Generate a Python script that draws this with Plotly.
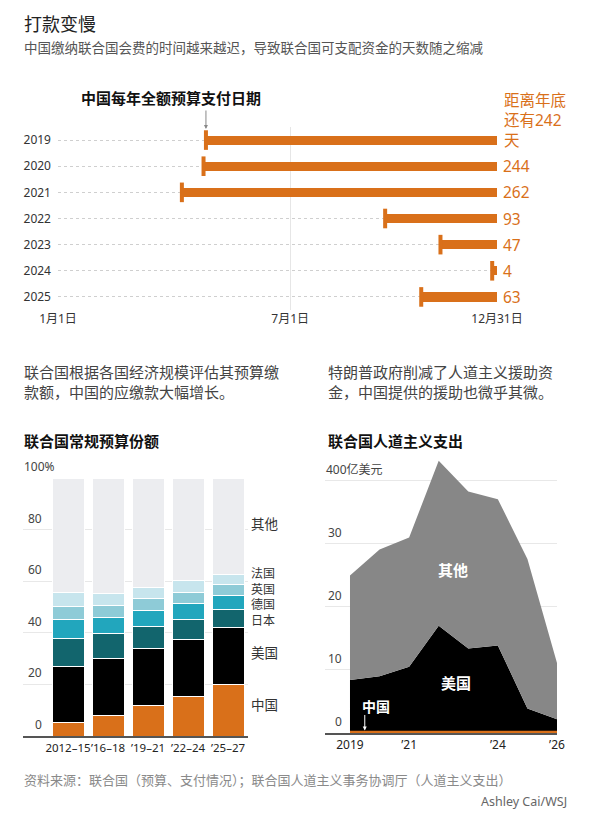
import plotly.graph_objects as go

W, H = 596, 819
ORANGE = "#d9701a"
FONT = "Noto Sans, Noto Sans CJK SC, sans-serif"

# top chart: days left in the year when China paid in full
YEARS = ["2019", "2020", "2021", "2022", "2023", "2024", "2025"]
DAYS_LEFT = [242, 244, 262, 93, 47, 4, 63]
PAY_DAY = [365 - d for d in DAYS_LEFT]
DAY_TICKS = [0, 193, 365]
DAY_LABELS = ["1月1日", "7月1日", "12月31日"]

# bottom left: regular budget shares (%)
PERIODS = ["2012–15", "’16–18", "’19–21", "’22–24", "’25–27"]
SHARE_CHINA = [5.1, 7.9, 12.0, 15.3, 20.0]
SHARE_US = [22.0, 22.0, 22.0, 22.0, 22.0]
SHARE_JAPAN = [10.8, 9.7, 8.6, 8.0, 6.9]
SHARE_GERMANY = [7.1, 6.4, 6.1, 6.1, 5.7]
SHARE_UK = [5.2, 4.5, 4.6, 4.4, 4.0]
SHARE_FRANCE = [5.6, 4.9, 4.4, 4.3, 3.9]
SHARE_OTHER = [100 - sum(v) for v in zip(SHARE_CHINA, SHARE_US, SHARE_JAPAN,
                                          SHARE_GERMANY, SHARE_UK, SHARE_FRANCE)]

# bottom right: humanitarian funding, billions of dollars (x10 亿美元)
AID_YEARS = [2019, 2020, 2021, 2022, 2023, 2024, 2025, 2026]
AID_CHINA = [0.2, 0.2, 0.2, 0.2, 0.2, 0.2, 0.2, 0.2]
AID_US = [8.2, 8.8, 10.3, 16.8, 13.2, 13.7, 3.7, 2.0]
AID_OTHER = [16.6, 20.1, 20.5, 26.2, 24.9, 23.2, 23.7, 8.9]


def px(x):
    return x / W


def py(y):
    return 1 - y / H


fig = go.Figure()

# ---- top chart
fig.add_trace(go.Bar(
    orientation="h", y=YEARS, x=DAYS_LEFT, base=PAY_DAY, width=0.35,
    marker_color=ORANGE, marker_line_width=0, xaxis="x", yaxis="y",
))
fig.add_trace(go.Scatter(
    x=PAY_DAY, y=YEARS, mode="markers", xaxis="x", yaxis="y",
    marker=dict(symbol="line-ns", size=14, line=dict(width=4, color=ORANGE)),
))

# ---- bottom left stacked shares
shares = [
    ("中国", SHARE_CHINA, ORANGE),
    ("美国", SHARE_US, "#000000"),
    ("日本", SHARE_JAPAN, "#12656d"),
    ("德国", SHARE_GERMANY, "#22a6bd"),
    ("英国", SHARE_UK, "#8ecbd7"),
    ("法国", SHARE_FRANCE, "#c7e5ed"),
    ("其他", SHARE_OTHER, "#ecedf0"),
]
for name, vals, col in shares:
    fig.add_trace(go.Bar(
        x=list(range(len(PERIODS))), y=vals, name=name, width=0.8,
        marker=dict(color=col, line=dict(color="white", width=1)),
        xaxis="x2", yaxis="y2",
    ))

# ---- bottom right stacked area
for name, vals, col, lw in [("中国", AID_CHINA, ORANGE, 2),
                            ("美国", AID_US, "#000000", 0),
                            ("其他", AID_OTHER, "#878787", 0)]:
    fig.add_trace(go.Scatter(
        x=AID_YEARS, y=vals, name=name, stackgroup="aid", mode="lines",
        line=dict(color=col, width=lw), fillcolor=col,
        xaxis="x3", yaxis="y3",
    ))

ann = []


def text(x, y, s, size=14, color="#333", xanchor="left", yanchor="middle", **kw):
    ann.append(dict(x=px(x), y=py(y), xref="paper", yref="paper", text=s,
                    showarrow=False, xanchor=xanchor, yanchor=yanchor,
                    font=dict(size=size, color=color, family=FONT), **kw))


# headings and notes
text(22, 24, "打款变慢", size=18, color="#222")
text(22, 48, "中国缴纳联合国会费的时间越来越迟，导致联合国可支配资金的天数随之缩减", size=13.5, color="#555")
text(79, 98, "<b>中国每年全额预算支付日期</b>", size=15, color="#111")
text(22, 372, "联合国根据各国经济规模评估其预算缴", size=15, color="#444")
text(22, 392, "款额，中国的应缴款大幅增长。", size=15, color="#444")
text(326, 372, "特朗普政府削减了人道主义援助资", size=15, color="#444")
text(326, 392, "金，中国提供的援助也微乎其微。", size=15, color="#444")
text(22, 441, "<b>联合国常规预算份额</b>", size=15, color="#111")
text(326, 441, "<b>联合国人道主义支出</b>", size=15, color="#111")
text(22, 780, "资料来源：联合国（预算、支付情况）；联合国人道主义事务协调厅（人道主义支出）", size=13, color="#8a8a8a")
text(569, 801, "Ashley Cai/WSJ", size=12.5, color="#666", xanchor="right")

# arrow to first payment date
ann.append(dict(x=PAY_DAY[0], y=py(129), xref="x", yref="paper", ax=0, ay=-20,
                showarrow=True, arrowhead=2, arrowsize=0.8, arrowwidth=1,
                arrowcolor="#888", text=""))

# days-left labels
for i, d in enumerate(DAYS_LEFT):
    if i == 0:
        continue
    ann.append(dict(x=365, y=i, xref="x", yref="y", text=str(d),
                    showarrow=False, xanchor="left", xshift=4,
                    font=dict(size=15.5, color=ORANGE, family=FONT)))
text(502, 120, f"距离年底<br>还有{DAYS_LEFT[0]}<br>天", size=15.5, color=ORANGE, align="left")

# share chart labels
y2px = lambda v: 736 - v * 2.58
for v in [0, 20, 40, 60, 80]:
    text(44, y2px(v) - 1, str(v), size=12, color="#444", xanchor="right", yanchor="bottom")
text(22, y2px(100) - 1, "100%", size=12, color="#444", yanchor="bottom")
for lab, y in [("其他", 524), ("美国", 653), ("中国", 705)]:
    text(249, y, lab, size=13.5, color="#333")
text(249, 597, "法国<br>英国<br>德国<br>日本", size=12, color="#333", align="left")

# aid chart labels
y3px = lambda v: 733 - v * 6.3
for v in [0, 10, 20, 30]:
    text(344, y3px(v) - 1, str(v), size=12, color="#444", xanchor="right", yanchor="bottom")
text(324, y3px(40) - 1, "400亿美元", size=12, color="#444", yanchor="bottom")
text(453, 570, "<b>其他</b>", size=15, color="white", xanchor="center")
text(456, 683, "<b>美国</b>", size=15, color="white", xanchor="center")
text(376, 706, "<b>中国</b>", size=14, color="white", xanchor="center")
ann.append(dict(x=2019.5, y=0.4, xref="x3", yref="y3", ax=0, ay=-17,
                showarrow=True, arrowhead=2, arrowsize=0.8, arrowwidth=1,
                arrowcolor="white", text=""))

fig.update_layout(
    width=W, height=H, margin=dict(l=0, r=0, t=0, b=0, pad=0, autoexpand=False),
    paper_bgcolor="white", plot_bgcolor="white",
    showlegend=False, barmode="stack", bargap=0.2,
    font=dict(family=FONT, color="#333"),
    annotations=ann,
    xaxis=dict(domain=[px(58), px(497)], range=[0, 365], anchor="y",
               tickvals=DAY_TICKS, ticktext=DAY_LABELS, ticks="",
               showgrid=True, gridcolor="#e6e6e6", zeroline=False,
               automargin=False, tickfont=dict(size=12, color="#333")),
    yaxis=dict(domain=[py(310), py(127)], type="category", categoryarray=YEARS,
               range=[6.5, -0.5], anchor="x", ticks="", showgrid=True,
               gridcolor="#cfcfcf", griddash="dot", zeroline=False,
               automargin=False, ticklabelstandoff=6,
               tickfont=dict(size=12, color="#333")),
    xaxis2=dict(domain=[px(23), px(248)], range=[-1.125, 4.5], anchor="y2",
                tickvals=list(range(len(PERIODS))), ticktext=PERIODS, ticks="",
                tickangle=0, showgrid=False, zeroline=False, showline=True,
                linecolor="#555", linewidth=1.5, automargin=False,
                tickfont=dict(size=11.5, color="#222")),
    yaxis2=dict(domain=[py(736), py(478)], range=[0, 100], anchor="x2",
                tickvals=[0, 20, 40, 60, 80, 100], showticklabels=False,
                showgrid=True, gridcolor="#e8e8e8", zeroline=False, automargin=False),
    xaxis3=dict(domain=[px(325), px(557)], range=[2018.155, 2026], anchor="y3",
                tickvals=[2019, 2021, 2024, 2026],
                ticktext=["2019", "’21", "’24", "’26"], ticks="", tickangle=0,
                showgrid=False, zeroline=False, showline=True, linecolor="#555",
                linewidth=1.5, automargin=False,
                tickfont=dict(size=12, color="#222")),
    yaxis3=dict(domain=[py(733), py(455)], range=[0, 44.1], anchor="x3",
                tickvals=[0, 10, 20, 30, 40], showticklabels=False,
                showgrid=True, gridcolor="#e8e8e8", zeroline=False, automargin=False),
)

fig.write_html("out.html", config={"displayModeBar": False},
               post_script="document.body.style.margin='0px';")
